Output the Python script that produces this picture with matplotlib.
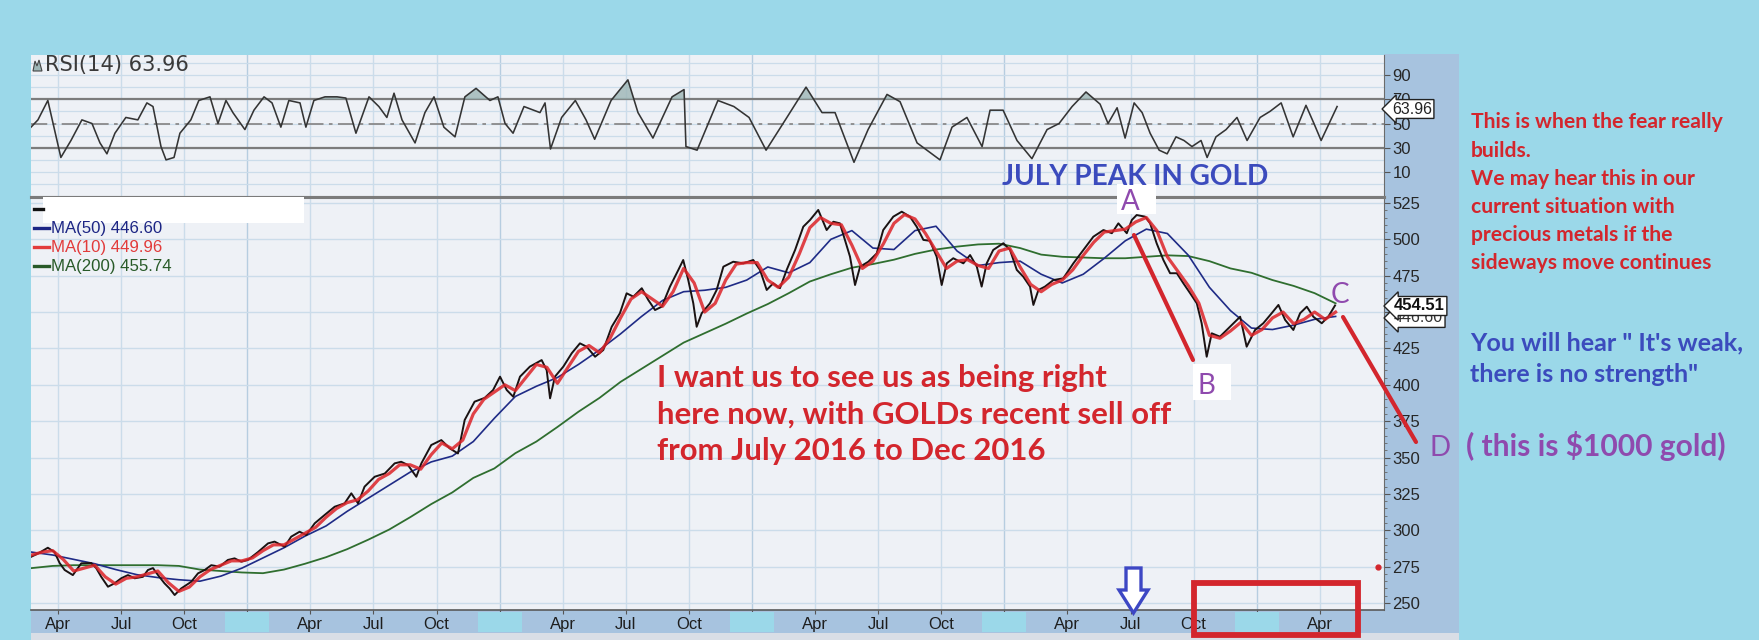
import numpy as np
import matplotlib
matplotlib.use("Agg")
import matplotlib.pyplot as plt
from matplotlib.patches import Rectangle, Polygon
from matplotlib.lines import Line2D
from matplotlib.transforms import blended_transform_factory

# ------------------------------------------------------------------ data
# time axis: months counted from 1 January of the first year shown
# (Apr = 3, Jul = 6, Oct = 9, next Jan = 12, ...)
price_t = [1.73, 2.05, 2.52, 2.84, 3.08, 3.32, 3.71, 4.11, 4.58, 4.82,
           5.06, 5.38, 5.70, 6.01, 6.33, 6.65, 7.04, 7.28, 7.52, 7.76,
           8.07, 8.31, 8.55, 8.86, 9.34, 9.66, 9.98, 10.29, 10.69, 11.08,
           11.40, 11.72, 12.03, 12.51, 12.99, 13.30, 13.78, 14.09, 14.49, 14.81,
           15.21, 15.68, 16.16, 16.63, 16.95, 17.27, 17.58, 18.06, 18.54, 19.01,
           19.32, 19.64, 20.04, 20.28, 20.75, 21.23, 21.63, 22.02, 22.34, 22.81,
           23.29, 23.69, 24.02, 24.34, 24.65, 24.97, 25.44, 26.00, 26.24, 26.40,
           26.63, 27.03, 27.43, 27.82, 28.14, 28.54, 28.93, 29.33, 29.72, 30.04,
           30.36, 30.76, 31.07, 31.39, 31.71, 32.10, 32.50, 32.73, 32.97, 33.21,
           33.37, 33.61, 34.00, 34.32, 34.64, 35.11, 35.59, 36.06, 36.38, 36.70,
           37.01, 37.33, 37.65, 38.05, 38.44, 38.76, 39.15, 39.55, 39.87, 40.18,
           40.42, 40.66, 40.90, 41.14, 41.53, 41.93, 42.24, 42.72, 43.12, 43.51,
           43.83, 44.15, 44.46, 44.78, 45.02, 45.26, 45.57, 46.05, 46.37, 46.69,
           46.92, 47.16, 47.47, 47.95, 48.27, 48.59, 48.90, 49.22, 49.38, 49.62,
           49.93, 50.33, 50.80, 51.28, 51.76, 52.23, 52.71, 53.11, 53.42, 53.82,
           54.06, 54.29, 54.69, 54.93, 55.24, 55.56, 55.88, 56.20, 56.51, 56.83,
           57.15, 57.38, 57.62, 57.86, 58.25, 58.57, 58.89, 59.21, 59.52, 59.92,
           60.31, 60.71, 61.03, 61.35, 61.74, 62.06, 62.38, 62.69, 63.09, 63.40,
           63.72]
price = [281.8, 284, 288, 285, 277.5, 272.7, 269.2, 277.3, 277.5, 274,
         268, 261.2, 263.6, 267, 269.2, 267, 268, 272.7, 274, 269.2,
         263.5, 260, 255.5, 260, 264.6, 270.4, 272.7, 276, 275, 279.6,
         280.7, 278.4, 279.6, 285, 291, 292.2, 288.7, 295.6, 299, 296.7,
         304.8, 310.5, 316.2, 318.5, 325.4, 318.5, 330, 336.8, 339, 346,
         347.1, 344.9, 336.8, 346, 358.6, 362, 356.3, 352.8, 375.8, 388.4,
         391, 396.4, 405.6, 396.4, 391.8, 405.6, 412.5, 417, 410, 390.7,
         405.6, 412.5, 421.7, 428.5, 426.2, 419.3, 423.9, 439.9, 449.2, 462.9,
         460.6, 466.4, 458.3, 451.4, 453.7, 467.5, 479, 485.8, 472, 456,
         439.9, 449.2, 456, 465.2, 481.2, 484.6, 483.5, 485.8, 479, 465.2,
         469.8, 466.4, 479, 492.7, 508.7, 513.3, 520.2, 506.4, 512.1, 511,
         499.6, 488.1, 468.6, 481.2, 484.6, 490.3, 506.4, 515.6, 519, 515.6,
         508.7, 499.6, 499, 488.1, 468.6, 483.5, 487, 483.5, 489.2, 481.2,
         467.5, 483.5, 492.7, 497.3, 492.7, 479, 474.3, 467.5, 454.9, 465.2,
         467.5, 472, 473.2, 483.5, 492.7, 501.8, 506.4, 504.2, 511, 504.2,
         513.3, 516.7, 515.6, 511, 497.3, 485.8, 476.7, 476.7, 469.8, 463,
         456, 442.3, 419.3, 435.4, 433.1, 437.7, 442.3, 446.8, 426.2, 437.7,
         442.3, 449.2, 454.9, 444.6, 437.7, 449.2, 453.7, 446.8, 442.3, 446.8,
         454.5]

ma10_t = np.arange(1.75, 63.76, 0.5)           # half-month samples
ma10 = [283, 285, 286, 280, 272, 274, 276, 268, 263, 267,
        268, 270, 272, 264, 258, 261, 268, 273, 276, 279,
        279, 281, 286, 290, 290, 294, 298, 302, 309, 315,
        319, 321, 327, 335, 339, 345, 345, 342, 352, 360,
        356, 362, 380, 390, 395, 400, 396, 405, 414, 412,
        401, 412, 423, 427, 422, 432, 446, 459, 464, 459,
        454, 464, 480, 470, 450, 456, 472, 483, 484, 484,
        472, 467, 474, 490, 508, 515, 511, 510, 496, 480,
        485, 497, 511, 517, 514, 504, 492, 480, 485, 486,
        482, 480, 492, 494, 481, 469, 464, 469, 472, 479,
        489, 498, 505, 506, 507, 512, 515, 506, 488, 478,
        468, 456, 434, 432, 437, 443, 434, 438, 446, 450,
        442, 445, 450, 445, 450]

ma_t = np.arange(1.75, 63.76, 1.0)             # monthly samples
ma50 = [285, 283, 280, 277, 273, 269.5, 267.5, 266, 265, 268.5,
        274, 281, 288, 296, 303, 313, 322, 331, 340, 347,
        351, 361, 377, 392, 399, 405, 414, 424, 435, 447,
        458, 464, 465, 467, 472, 481, 477, 484, 500, 506,
        494, 493, 506, 509, 492, 482, 484, 485, 476, 470,
        476, 487, 499, 507, 504, 489, 467, 451, 439, 438,
        441, 445, 447]
ma200 = [274, 275.5, 276, 276, 276, 276, 276, 275.5, 273, 272,
         271, 270.5, 273, 277, 281.5, 287, 293.5, 300.5, 309, 318,
         326, 336, 342.5, 353, 361, 371, 381.5, 391, 402, 411,
         420, 429, 435.5, 442, 449, 455.5, 463, 471, 476, 480.5,
         483, 486, 490, 493, 495, 496.5, 497, 494, 489.5, 488,
         487.5, 487, 487, 488, 489, 488.5, 485, 480, 477, 472,
         468, 463, 456]

rsi_t = [1.72, 2.05, 2.52, 2.81, 3.14, 3.62, 4.14, 4.62, 5.00, 5.33,
         5.71, 6.23, 6.80, 7.23, 7.52, 7.90, 8.14, 8.52, 8.80, 9.32,
         9.70, 10.23, 10.61, 10.99, 11.32, 11.89, 12.32, 12.80, 13.18, 13.60,
         13.98, 14.51, 14.79, 15.17, 15.70, 16.27, 16.69, 17.17, 17.79, 18.26,
         18.64, 18.98, 19.36, 19.98, 20.45, 20.88, 21.35, 21.88, 22.35, 22.88,
         23.54, 23.92, 24.26, 24.64, 25.16, 25.92, 26.16, 26.42, 26.95, 27.60,
         28.11, 28.52, 29.30, 30.10, 30.58, 31.29, 32.20, 32.77, 32.86, 33.39,
         34.38, 35.14, 35.86, 36.67, 37.66, 38.57, 39.33, 39.95, 40.85, 41.52,
         42.42, 43.04, 43.85, 44.94, 45.51, 46.22, 46.94, 47.32, 47.94, 48.60,
         49.31, 50.03, 50.60, 51.22, 51.88, 52.55, 52.93, 53.36, 53.74, 54.17,
         54.55, 54.93, 55.36, 55.74, 56.16, 56.54, 56.92, 57.35, 57.64, 58.06,
         58.54, 59.06, 59.54, 60.16, 60.63, 61.16, 61.73, 62.34, 62.72, 63.06,
         63.44, 63.82]
rsi = [47, 53, 69, 47, 22, 36, 53, 50, 34, 25,
       42, 55, 53, 67, 64, 31, 20, 22, 42, 53,
       69, 72, 50, 69, 59, 45, 61, 72, 67, 47,
       69, 67, 47, 69, 72, 72, 71, 42, 72, 64,
       55, 75, 53, 34, 59, 72, 47, 39, 72, 79,
       69, 72, 50, 42, 64, 59, 67, 29, 55, 69,
       53, 37, 69, 86, 59, 38, 72, 78, 31, 28,
       69, 64, 55, 28, 55, 80, 59, 59, 18, 45,
       74, 68, 34, 20, 47, 55, 31, 61, 61, 36,
       21, 45, 50, 64, 76, 66, 50, 63, 38, 67,
       59, 42, 28, 25, 39, 36, 31, 36, 22, 39,
       45, 55, 36, 55, 60, 67, 39, 65, 50, 36,
       50, 64]

tick_t = [3, 6, 9, 12, 15, 18, 21, 24, 27, 30, 33, 36, 39, 42, 45, 48, 51,
          54, 57, 60, 63]
tick_labels = ['Apr', 'Jul', 'Oct', '', 'Apr', 'Jul', 'Oct', '', 'Apr', 'Jul',
               'Oct', '', 'Apr', 'Jul', 'Oct', '', 'Apr', 'Jul', 'Oct', '', 'Apr']
year_t = [12, 24, 36, 48, 60]
rsi_ticks = [10, 30, 50, 70, 90]
price_ticks = [250, 275, 300, 325, 350, 375, 400, 425, 450, 475, 500, 525]

rsi_title = 'RSI(14) 63.96'
last_rsi = '63.96'
last_price = '454.51'
last_ma50 = '446.60'
legend_labels = ['MA(50) 446.60', 'MA(10) 449.96', 'MA(200) 455.74']

# ------------------------------------------------------------------ style
W, H, DPI = 1759, 640, 100
BG = '#9bd8e9'
PANEL = '#eef1f6'
STRIP = '#a7c3df'
GRID = '#cbdcea'
GRID_Y = '#b6cde0'
RED = '#d3262d'
BLUE_TXT = '#3b4bbd'
PURPLE = '#8f4aae'
C_PRICE = '#1a1212'
C_MA10 = '#dd2328'
C_MA50 = '#1f2b86'
C_MA200 = '#2f6e2f'
LEG_COLORS = ['#1c2584', '#e23b3b', '#285a28']
LATO = ['Lato', 'DejaVu Sans']
ARIAL = ['Liberation Sans', 'DejaVu Sans']


def fx(x):
    return x / W


def fy(y):
    return 1 - y / H


fig = plt.figure(figsize=(W / DPI, H / DPI), dpi=DPI, facecolor=BG)


def rect_px(x0, y0, x1, y1, **kw):
    r = Rectangle((fx(x0), fy(y1)), (x1 - x0) / W, (y1 - y0) / H,
                  transform=fig.transFigure, **kw)
    fig.add_artist(r)
    return r


# strips around the plot
rect_px(1384, 54, 1459, 633, fc=STRIP, ec='none', zorder=-2)
rect_px(31, 610, 1459, 633, fc=STRIP, ec='none', zorder=-2)
rect_px(31, 633, 1459, 640, fc='#d9dee6', ec='none', zorder=-2)

ax_r = fig.add_axes([fx(31), fy(197), (1384 - 31) / W, (197 - 55) / H])
ax_p = fig.add_axes([fx(31), fy(610), (1384 - 31) / W, (610 - 197) / H])
XL = (1.72, 66.05)

for ax in (ax_r, ax_p):
    ax.set_facecolor(PANEL)
    ax.set_xlim(*XL)
    ax.spines['left'].set_visible(False)
    ax.spines['right'].set_color('#6b6b6b')
    ax.yaxis.tick_right()
    ax.tick_params(axis='y', which='major', direction='out', length=4, pad=2,
                   labelsize=12, labelcolor='#262626', color='#555555')
    ax.set_xticks(tick_t)
    for t in tick_t:
        ax.axvline(t, color=GRID_Y if t in year_t else GRID, lw=1.0, zorder=0.5)

# ----- RSI panel
ax_r.set_ylim(-10.6, 106.5)
ax_r.set_yticks(rsi_ticks)
ax_r.set_yticklabels([str(v) for v in rsi_ticks], family=ARIAL)
ax_r.tick_params(axis='x', length=0, labelbottom=False)
ax_r.spines['top'].set_visible(False)
ax_r.spines['bottom'].set_color('#7b7b7b')
ax_r.spines['bottom'].set_linewidth(2.2)
for v in range(0, 101, 10):
    ax_r.axhline(v, color=GRID, lw=0.9, zorder=0.5)
ax_r.axhline(70, color='#7c7c7c', lw=1.6, zorder=1)
ax_r.axhline(30, color='#7c7c7c', lw=1.6, zorder=1)
ax_r.axhline(50, color='#8a8a8a', lw=1.3, dashes=(9, 3, 2, 3), zorder=1)
rsi_arr = np.array(rsi, dtype=float)
ax_r.fill_between(rsi_t, rsi_arr, 70, where=rsi_arr > 70, interpolate=True,
                  color='#9db6b6', alpha=0.8, lw=0, zorder=1.5)
ax_r.plot(rsi_t, rsi_arr, color='#343434', lw=1.15, zorder=2)

# ----- price panel
ax_p.set_ylim(245.2, 529.1)
ax_p.set_yticks(price_ticks)
ax_p.set_yticklabels([str(v) for v in price_ticks], family=ARIAL)
ax_p.set_yticks(np.arange(250, 530, 5), minor=True)
ax_p.tick_params(axis='y', which='minor', direction='out', length=2,
                 color='#666666')
ax_p.spines['top'].set_color('#7b7b7b')
ax_p.spines['top'].set_linewidth(2.2)
ax_p.spines['bottom'].set_color('#5a5a5a')
ax_p.spines['bottom'].set_linewidth(1.2)
ax_p.set_xticklabels(tick_labels, family=ARIAL)
ax_p.tick_params(axis='x', direction='out', length=3, pad=2, labelsize=12,
                 labelcolor='#1e1e1e', color='#555555')
for v in price_ticks:
    ax_p.axhline(v, color=GRID, lw=1.0, zorder=0.5)

ax_p.plot(ma_t, ma200, color=C_MA200, lw=1.3, zorder=2)
ax_p.plot(ma_t, ma50, color=C_MA50, lw=1.2, zorder=2.1)
ax_p.plot(price_t, price, color=C_PRICE, lw=1.4, zorder=2.2)
ax_p.plot(ma10_t, ma10, color=C_MA10, lw=2.3, alpha=0.85, zorder=2.3)

# year-label covers on the date strip (Jan positions)
bt = blended_transform_factory(ax_p.transData, fig.transFigure)
for t in year_t:
    r = Rectangle((t - 1.05, fy(632)), 2.1, 20 / H, transform=bt, fc=BG,
                  ec='none', zorder=5)
    r.set_clip_on(False)
    fig.add_artist(r)

# value flags on the right axis
flag_kw = dict(ha='left', va='center', zorder=6, family=ARIAL,
               bbox=dict(boxstyle='larrow,pad=0.12', fc='white', ec='#222222',
                         lw=1.0))
fig.text(fx(1392), fy(109), last_rsi, fontsize=11.5, color='#222222', **flag_kw)
fig.text(fx(1394), fy(318), last_ma50, fontsize=11.5, color='#333333', **flag_kw)
fig.text(fx(1394), fy(306), last_price, fontsize=12, weight='bold',
         color='#111111', **flag_kw)

# ------------------------------------------------------------------ text
renderer = fig.canvas.get_renderer()


def place(lines, x, baselines, width, widest=0, colors=None, **kw):
    kw.setdefault('zorder', 8)
    ts = []
    for i, (s, b) in enumerate(zip(lines, baselines)):
        k = dict(kw)
        if colors:
            k['color'] = colors[i]
        ts.append(fig.text(fx(x), fy(b), s, ha='left', va='baseline',
                           parse_math=False, **k))
    w = ts[widest].get_window_extent(renderer).width
    fs = ts[0].get_fontsize() * width / w
    for t in ts:
        t.set_fontsize(fs)
    return ts


# small RSI glyph + title
fig.add_artist(Polygon([(fx(a), fy(b)) for a, b in
                        [(33, 71), (35, 61), (37, 66), (39, 60), (42, 71)]],
                       closed=True, fc='#9db6b6', ec='#444444', lw=0.8,
                       transform=fig.transFigure, zorder=8))
place([rsi_title], 45, [71], 144, family=['DejaVu Sans'], color='#3a3a3a',
      fontsize=11)

# legend (price line label masked by a white box)
rect_px(43, 197, 304, 223, fc='white', ec='none', zorder=7)
fig.add_artist(Line2D([fx(34), fx(43)], [fy(209), fy(209)], color='#111111',
                      lw=2.4, transform=fig.transFigure, zorder=7))
for yy, c in zip([228, 247, 266], LEG_COLORS):
    fig.add_artist(Line2D([fx(34), fx(49)], [fy(yy), fy(yy)], color=c, lw=2.4,
                          transform=fig.transFigure, zorder=7))
place(legend_labels, 51, [233, 252, 271], 120, widest=2, colors=LEG_COLORS,
      family=ARIAL, fontsize=11)

place(['JULY PEAK IN GOLD'], 1002, [185], 267, family=LATO, weight='bold',
      color=BLUE_TXT, fontsize=18)

place(['I want us to see us as being right',
       'here now, with GOLDs recent sell off',
       'from July 2016 to Dec 2016'],
      657, [387, 424, 460], 514, widest=1, family=LATO, weight='bold',
      color=RED, fontsize=18)

place(['This is when the fear really', 'builds.', 'We may hear this in our',
       'current situation with', 'precious metals if the',
       'sideways move continues'],
      1471, [128, 157, 185, 213, 241, 269], 254, widest=0, family=LATO,
      weight='bold', color=RED, fontsize=14)

place(['You will hear " It\'s weak,', 'there is no strength"'],
      1470, [350, 382], 275, widest=0, family=LATO, weight='bold',
      color=BLUE_TXT, fontsize=15)

place(['( this is $1000 gold)'], 1466, [456], 260, family=LATO, weight='bold',
      color=PURPLE, fontsize=17)

# letter markers
rect_px(1117, 184, 1156, 214, fc='white', ec='none', zorder=7)
rect_px(1193, 364, 1231, 400, fc='white', ec='none', zorder=7)
for s, x, b in [('A', 1121, 210), ('B', 1197, 394), ('C', 1331, 303),
                ('D', 1430, 456)]:
    fig.text(fx(x), fy(b), s, ha='left', va='baseline', family=LATO,
             fontsize=20, color=PURPLE, zorder=8)

# red trend lines A-B and C-D
for (x0, y0, x1, y1) in [(1134, 235, 1193, 360), (1343, 317, 1416, 442)]:
    fig.add_artist(Line2D([fx(x0), fx(x1)], [fy(y0), fy(y1)], color=RED,
                          lw=3.0, solid_capstyle='round',
                          transform=fig.transFigure, zorder=7))
fig.add_artist(Line2D([fx(1378)], [fy(567)], marker='o', ms=3.5, color=RED,
                      lw=0, transform=fig.transFigure, zorder=7))

# red box on the date axis
rect_px(1194, 583, 1358, 635, fc='none', ec=RED, lw=4.2, zorder=7)

# hollow blue down arrow at July
arrow_px = [(1126, 568), (1141, 568), (1141, 590), (1148, 590),
            (1133.5, 613), (1119, 590), (1126, 590)]
fig.add_artist(Polygon([(fx(a), fy(b)) for a, b in arrow_px], closed=True,
                       fc='white', ec='#3d47c4', lw=2.4,
                       transform=fig.transFigure, zorder=7))

fig.savefig('out.png', dpi=DPI, facecolor=BG)
